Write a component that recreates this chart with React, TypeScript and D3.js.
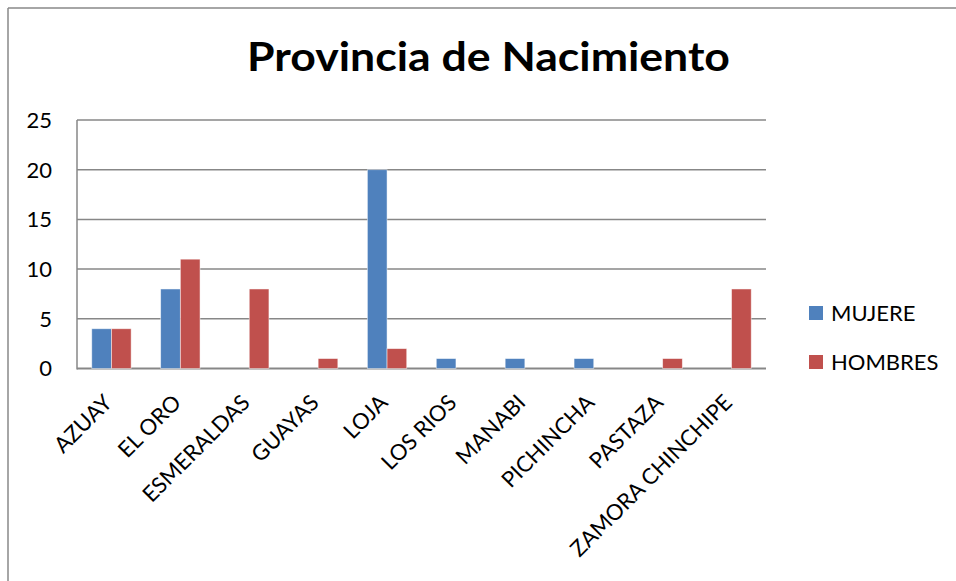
import React from "react";
import * as d3 from "d3";

const categories = ["AZUAY", "EL ORO", "ESMERALDAS", "GUAYAS", "LOJA", "LOS RIOS", "MANABI", "PICHINCHA", "PASTAZA", "ZAMORA CHINCHIPE"];
const seriesNames = ["MUJERE", "HOMBRES"];
const mujere = [4, 8, 0, 0, 20, 1, 1, 1, 0, 0];
const hombres = [4, 11, 8, 1, 2, 0, 0, 0, 1, 8];
const yTicks = [0, 5, 10, 15, 20, 25];
const colors = ["#4F81BD", "#C0504D"];
const titleText = "Provincia de Nacimiento";

const W = 956;
const H = 581;
const plot = { left: 77, right: 766, top: 120, bottom: 368.5 };
const FONT = "Lato, 'Open Sans', sans-serif";

export default function App() {
  const x = d3.scaleBand<string>().domain(categories).range([plot.left, plot.right]).paddingInner(0).paddingOuter(0);
  const bw = x.bandwidth();
  const gap = (bw / 3.5) * 1.5;
  const xs = d3.scaleBand<string>().domain(seriesNames).range([gap / 2, bw - gap / 2]).padding(0);
  const y = d3.scaleLinear().domain([0, 25]).range([plot.bottom, plot.top]);
  const series = [mujere, hombres];

  return (
    <svg width={W} height={H} style={{ position: "absolute", left: 0, top: 0, display: "block", background: "#fff" }}>
      {/* outer frame */}
      <line x1={8} y1={8} x2={W} y2={8} stroke="#888" strokeWidth={1.5} />
      <line x1={8} y1={8} x2={8} y2={H} stroke="#888" strokeWidth={1.5} />

      {/* title */}
      <text x={488.5} y={71} textAnchor="middle" fontFamily={FONT} fontWeight={700} fontSize={40} textLength={483} lengthAdjust="spacingAndGlyphs" fill="#000">
        {titleText}
      </text>

      {/* gridlines */}
      {yTicks.map((t) => (
        <line key={"g" + t} x1={plot.left} x2={plot.right} y1={y(t)} y2={y(t)} stroke="#878787" strokeWidth={t === 0 ? 2 : 1.5} />
      ))}
      <line x1={plot.left} x2={plot.left} y1={plot.top} y2={plot.bottom + 1} stroke="#878787" strokeWidth={1.5} />

      {/* y tick labels */}
      {yTicks.map((t) => (
        <text key={"t" + t} x={52} y={y(t)} dy="0.36em" textAnchor="end" fontFamily={FONT} fontSize={22} fill="#000">
          {t}
        </text>
      ))}

      {/* bars */}
      {series.map((vals, si) =>
        vals.map((v, ci) =>
          v > 0 ? (
            <rect
              key={`b${si}-${ci}`}
              x={(x(categories[ci]) as number) + (xs(seriesNames[si]) as number)}
              y={y(v)}
              width={xs.bandwidth()}
              height={y(0) - y(v)}
              fill={colors[si]}
              stroke="#ffffff"
              strokeOpacity={0.6}
              strokeWidth={0.8}
            />
          ) : null
        )
      )}

      {/* x labels */}
      {categories.map((c) => {
        const cx = (x(c) as number) + bw / 2;
        return (
          <text key={"x" + c} transform={`translate(${cx + 2},${404}) rotate(-45)`} textAnchor="end" fontFamily={FONT} fontSize={22} fill="#000">
            {c}
          </text>
        );
      })}

      {/* legend */}
      {seriesNames.map((s, i) => (
        <g key={"l" + s} transform={`translate(809,${306 + i * 49})`}>
          <rect x={0} y={0} width={14} height={14} fill={colors[i]} />
          <text x={22} y={15} fontFamily={FONT} fontSize={22} fill="#000">
            {s}
          </text>
        </g>
      ))}
    </svg>
  );
}
